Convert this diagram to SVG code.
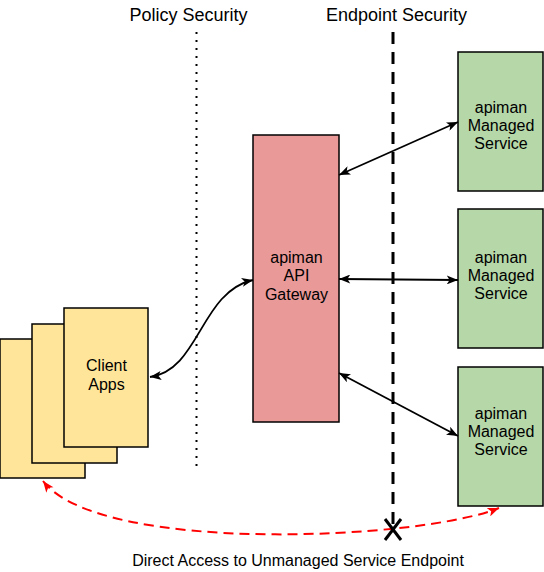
<svg xmlns="http://www.w3.org/2000/svg" width="544" height="572" viewBox="0 0 544 572">
  <style>
    .lbl { font-family: "Liberation Sans", Arial, sans-serif; fill: #000; text-anchor: middle; }
    .node { stroke: #000; stroke-width: 1.5; }
    .client { fill: #FFE599; }
    .gw { fill: #EA9999; }
    .svc { fill: #B6D7A8; }
    .conn { fill: none; stroke: #000; stroke-width: 1.8; }
  </style>
  <defs>
    <marker id="ah" viewBox="0 0 10 8" refX="10" refY="4" markerWidth="12" markerHeight="9" markerUnits="userSpaceOnUse" orient="auto-start-reverse">
      <path d="M0,0 L10,4 L0,8 L2.5,4 z" fill="#000"/>
    </marker>
    <marker id="ahr" viewBox="0 0 10 8" refX="10" refY="4" markerWidth="12" markerHeight="9" markerUnits="userSpaceOnUse" orient="auto-start-reverse">
      <path d="M0,0 L10,4 L0,8 L2.5,4 z" fill="#FF0000"/>
    </marker>
  </defs>
  <rect width="544" height="572" fill="#fff"/>

  <g id="labels">
    <text class="lbl" x="188.5" y="20.5" font-size="18">Policy Security</text>
    <text class="lbl" x="396.5" y="20.5" font-size="18">Endpoint Security</text>
    <text class="lbl" x="298" y="566" font-size="16">Direct Access to Unmanaged Service Endpoint</text>
  </g>

  <g id="boundaries">
    <line x1="196.5" y1="32" x2="196.5" y2="468" stroke="#000" stroke-width="2" stroke-dasharray="2 6"/>
    <line x1="393" y1="32" x2="393" y2="530" stroke="#000" stroke-width="3" stroke-dasharray="12 8"/>
  </g>

  <g id="client-apps">
    <rect class="node client" x="0" y="339" width="85" height="139"/>
    <rect class="node client" x="32" y="324" width="85" height="139"/>
    <rect class="node client" x="64" y="308" width="84" height="139"/>
    <text class="lbl" x="106.5" y="371" font-size="16">Client</text>
    <text class="lbl" x="106.5" y="389.5" font-size="16">Apps</text>
  </g>

  <g id="gateway">
    <rect class="node gw" x="253" y="135" width="86" height="287"/>
    <text class="lbl" x="296.5" y="262.5" font-size="16">apiman</text>
    <text class="lbl" x="296.5" y="281" font-size="16">API</text>
    <text class="lbl" x="296.5" y="299.5" font-size="16">Gateway</text>
  </g>

  <g id="service-1">
    <rect class="node svc" x="458" y="52" width="85" height="139"/>
    <text class="lbl" x="501" y="113" font-size="16">apiman</text>
    <text class="lbl" x="501" y="131" font-size="16">Managed</text>
    <text class="lbl" x="501" y="149" font-size="16">Service</text>
  </g>

  <g id="service-2">
    <rect class="node svc" x="458" y="209" width="85" height="139"/>
    <text class="lbl" x="501" y="263" font-size="16">apiman</text>
    <text class="lbl" x="501" y="281" font-size="16">Managed</text>
    <text class="lbl" x="501" y="299" font-size="16">Service</text>
  </g>

  <g id="service-3">
    <rect class="node svc" x="458" y="367" width="85" height="139"/>
    <text class="lbl" x="501" y="419" font-size="16">apiman</text>
    <text class="lbl" x="501" y="437" font-size="16">Managed</text>
    <text class="lbl" x="501" y="455" font-size="16">Service</text>
  </g>

  <g id="connectors">
    <path class="conn" d="M150,377 C200,370 200,292 253,280" marker-start="url(#ah)" marker-end="url(#ah)"/>
    <line class="conn" x1="339" y1="175" x2="458" y2="122" marker-start="url(#ah)" marker-end="url(#ah)"/>
    <line class="conn" x1="339" y1="279" x2="458" y2="280" marker-start="url(#ah)" marker-end="url(#ah)"/>
    <line class="conn" x1="339" y1="373" x2="458" y2="436" marker-start="url(#ah)" marker-end="url(#ah)"/>
    <path d="M43,481 C100,555 420,540 499,508" fill="none" stroke="#FF0000" stroke-width="2" stroke-dasharray="10 6" marker-start="url(#ahr)" marker-end="url(#ahr)"/>
    <g id="blocked" stroke="#000" stroke-width="3">
      <line x1="385" y1="519" x2="401" y2="540"/>
      <line x1="401" y1="519" x2="385" y2="540"/>
    </g>
  </g>
</svg>
